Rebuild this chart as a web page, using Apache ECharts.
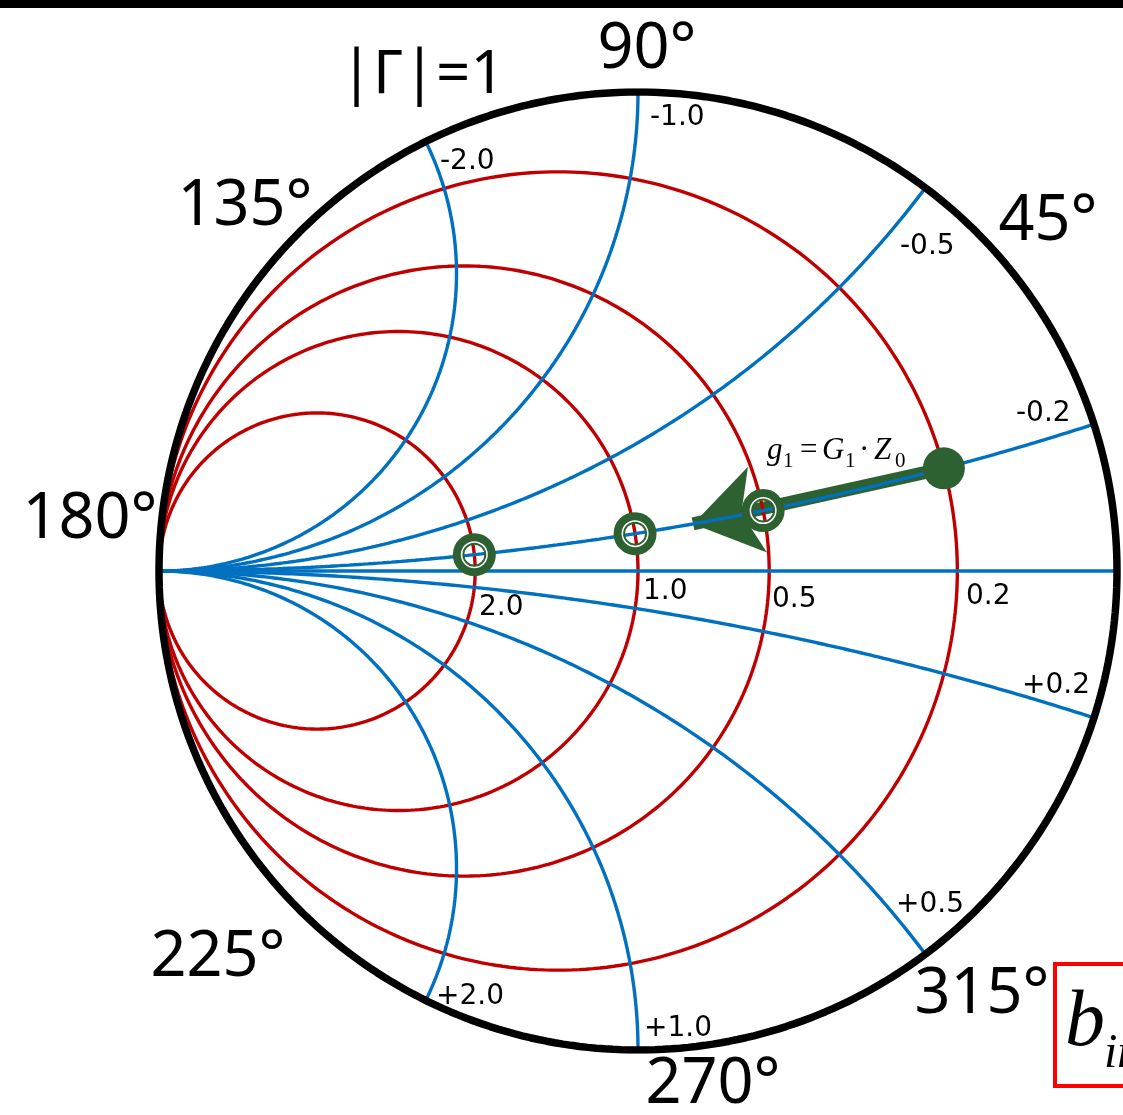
<!DOCTYPE html>
<html>
<head>
<meta charset="utf-8">
<script src="https://cdn.jsdelivr.net/npm/echarts@6/dist/echarts.min.js"></script>
<style>
  html, body { margin: 0; padding: 0; background: #fff; }
  #chart { width: 1123px; height: 1115px; }
</style>
</head>
<body>
<div id="chart"></div>
<script>
// Admittance Smith chart (values as drawn in the picture)
const conductanceLabels = ['0.2', '0.5', '1.0', '2.0'];
const conductanceValues = [0.2, 0.57, 1.0, 2.03];
const susceptanceTopLabels = ['-0.2', '-0.5', '-1.0', '-2.0'];
const susceptanceBottomLabels = ['+0.2', '+0.5', '+1.0', '+2.0'];
const susceptanceValues = [0.157, 0.5, 1.0, 1.61];
const angleLabels = ['90°', '45°', '135°', '180°', '225°', '270°', '315°'];

// points along the -0.2 arc
const pathSusceptance = -0.157;
const ringConductances = [2.03, 1.0, 0.57];
const startConductance = 0.2;
const arrowEndConductance = 0.78;

const RED = '#c00000';
const BLUE = '#0070c0';
const GREEN = '#2e6131';

// y = g + jb  ->  gamma = (1 - y) / (1 + y)
function toGamma(g, b) {
  const d = (1 + g) * (1 + g) + b * b;
  return [(1 - g * g - b * b) / d, -2 * b / d];
}

function conductanceCircle(g) {
  const cx = -g / (1 + g), r = 1 / (1 + g);
  const pts = [];
  for (let i = 0; i <= 360; i++) {
    const a = i * Math.PI / 180;
    pts.push([cx + r * Math.cos(a), r * Math.sin(a)]);
  }
  return pts;
}

function susceptanceArc(b) {
  // circle centre (-1, -1/b), radius 1/|b|
  const cy = -1 / b, r = Math.abs(1 / b);
  const end = toGamma(0, b);
  const a0 = b < 0 ? -Math.PI / 2 : Math.PI / 2;
  const a1 = Math.atan2(end[1] - cy, end[0] + 1);
  const pts = [];
  for (let i = 0; i <= 200; i++) {
    const a = a0 + (a1 - a0) * i / 200;
    pts.push([-1 + r * Math.cos(a), cy + r * Math.sin(a)]);
  }
  return pts;
}

function unitCircle() {
  const pts = [];
  for (let i = 0; i <= 360; i++) {
    const a = i * Math.PI / 180;
    pts.push([Math.cos(a), Math.sin(a)]);
  }
  return pts;
}

const series = [];

conductanceValues.forEach(g => {
  series.push({
    type: 'line', data: conductanceCircle(g), showSymbol: false, silent: true,
    lineStyle: { color: RED, width: 3.4 }
  });
});

susceptanceValues.forEach(b => {
  [-b, b].forEach(sb => {
    series.push({
      type: 'line', data: susceptanceArc(sb), showSymbol: false, silent: true,
      lineStyle: { color: BLUE, width: 3.4 }
    });
  });
});

// real axis
series.push({
  type: 'line', data: [[-1.01, 0], [1, 0]], showSymbol: false, silent: true,
  lineStyle: { color: BLUE, width: 3.4 }
});

// |Gamma| = 1
series.push({
  type: 'line', data: unitCircle(), showSymbol: false, silent: true,
  lineStyle: { color: '#000', width: 7.5 }
});

// arrow g = 0.2 -> higher g
series.push({
  type: 'lines', coordinateSystem: 'cartesian2d', silent: true,
  symbol: ['none', 'arrow'], symbolSize: 66,
  lineStyle: { color: GREEN, width: 13, opacity: 1 },
  data: [{ coords: [toGamma(startConductance, pathSusceptance), toGamma(arrowEndConductance, pathSusceptance)] }],
  z: 3
});

const ringPts = ringConductances.map(g => toGamma(g, pathSusceptance));
series.push({
  type: 'scatter', data: ringPts, symbolSize: 28, silent: true, z: 4,
  itemStyle: { color: 'transparent', borderColor: '#fff', borderWidth: 5, opacity: 1 }
});
series.push({
  type: 'scatter', data: ringPts, symbolSize: 35, silent: true, z: 5,
  itemStyle: { color: 'transparent', borderColor: GREEN, borderWidth: 8, opacity: 1 }
});
series.push({
  type: 'scatter', data: ringPts, symbolSize: 22, silent: true, z: 5,
  itemStyle: { color: 'transparent', borderColor: GREEN, borderWidth: 2, opacity: 1 }
});
series.push({
  type: 'scatter', data: [toGamma(startConductance, pathSusceptance)], symbolSize: 42, silent: true, z: 5,
  itemStyle: { color: GREEN, opacity: 1 }
});

// text
const bigFont = '63px "Noto Sans"';
const smallFont = '28px "DejaVu Sans"';
const angleCenters = [[647, 50], [1048, 222], [245, 207], [90, 520], [218, 958], [713, 1085], [982, 995]];
const topLabelPos = [[1016, 414], [900, 247], [650, 118], [440, 162]];
const bottomLabelPos = [[1022, 686], [896, 905], [644, 1029], [436, 997]];
const condLabelPos = [[966, 597], [772, 600], [643, 592], [479, 608]];

const graphic = [
  { type: 'rect', shape: { x: 0, y: 0, width: 1123, height: 8 }, style: { fill: '#000' } },
  { type: 'text', x: 340, y: 76, style: { text: '|Γ|=1', font: '60px "Noto Sans"', fill: '#000', verticalAlign: 'middle' } }
];
angleLabels.forEach((t, i) => {
  graphic.push({ type: 'text', x: angleCenters[i][0], y: angleCenters[i][1],
    style: { text: t, font: bigFont, fill: '#000', align: 'center', verticalAlign: 'middle' } });
});
susceptanceTopLabels.forEach((t, i) => {
  graphic.push({ type: 'text', x: topLabelPos[i][0], y: topLabelPos[i][1],
    style: { text: t, font: smallFont, fill: '#000', verticalAlign: 'middle' } });
});
susceptanceBottomLabels.forEach((t, i) => {
  graphic.push({ type: 'text', x: bottomLabelPos[i][0], y: bottomLabelPos[i][1],
    style: { text: t, font: smallFont, fill: '#000', verticalAlign: 'middle' } });
});
conductanceLabels.forEach((t, i) => {
  graphic.push({ type: 'text', x: condLabelPos[i][0], y: condLabelPos[i][1],
    style: { text: t, font: smallFont, fill: '#000', verticalAlign: 'middle' } });
});

// g1 = G1 . Z0
const serifIt = 'italic 31px "Liberation Serif"';
const serif = '31px "Liberation Serif"';
const sub = '21px "Liberation Serif"';
[
  ['g', 767, 451, serifIt], ['1', 783, 461, sub], ['=', 800, 451, serif],
  ['G', 822, 451, serifIt], ['1', 845, 461, sub], ['·', 859, 451, serif],
  ['Z', 874, 451, serifIt], ['0', 895, 461, sub]
].forEach(p => {
  graphic.push({ type: 'text', x: p[1], y: p[2], z: 10,
    style: { text: p[0], font: p[3], fill: '#000', verticalAlign: 'middle' } });
});

// red box with b_in
graphic.push({ type: 'rect', shape: { x: 1055, y: 964, width: 90, height: 122 },
  style: { fill: '#fff', stroke: '#ff0000', lineWidth: 4 } });
graphic.push({ type: 'text', x: 1065, y: 1024,
  style: { text: 'b', font: 'italic 80px "Liberation Serif"', fill: '#000', verticalAlign: 'middle' } });
graphic.push({ type: 'text', x: 1104, y: 1054,
  style: { text: 'in', font: 'italic 48px "Liberation Serif"', fill: '#000', verticalAlign: 'middle' } });

let chart = echarts.init(document.getElementById('chart'), null, { renderer: 'canvas' });
chart.setOption({
  animation: false,
  backgroundColor: '#fff',
  grid: { left: 159, top: 92, width: 958, height: 958 },
  xAxis: { type: 'value', min: -1, max: 1, show: false },
  yAxis: { type: 'value', min: -1, max: 1, show: false },
  series: series,
  graphic: graphic
});
</script>
</body>
</html>
